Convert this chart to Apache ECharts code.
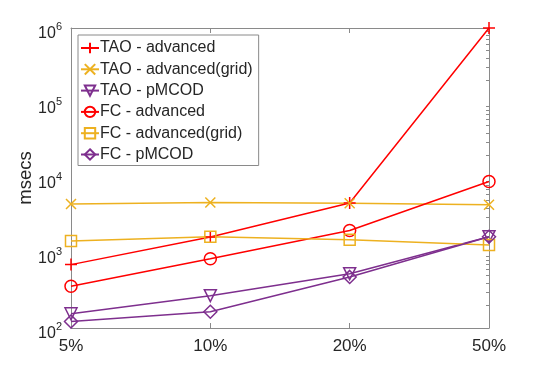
<!DOCTYPE html>
<html>
<head>
<meta charset="utf-8">
<script src="https://cdn.jsdelivr.net/npm/echarts@6/dist/echarts.min.js"></script>
<style>
  html, body { margin: 0; padding: 0; background: #fff; }
  #chart { width: 540px; height: 369px; }
</style>
</head>
<body>
<div id="chart"></div>
<script>
// categories (x axis)
var categories = ['5%', '10%', '20%', '50%'];
// series values, msecs
var taoAdvanced     = [700, 1630, 4650, 1000000];
var taoAdvancedGrid = [4500, 4700, 4600, 4400];
var taoPmcod        = [155, 270, 530, 1650];
var fcAdvanced      = [360, 840, 2000, 9000];
var fcAdvancedGrid  = [1450, 1650, 1500, 1280];
var fcPmcod         = [122, 165, 480, 1650];
// y axis range (powers of ten)
var yMin = 100;
var yMax = 1000000;

var RED = '#ff0000';
var ORANGE = '#edb120';
var PURPLE = '#7e2f8e';
var AXIS = '#8a8a8a';
var TEXT = '#262626';
var FONT = '"Liberation Sans", Arial, sans-serif';

// minor ticks of the log axis, in log10 space (2..9 in every decade)
var minorTicks = [];
for (var d = 2; d < 6; d++) {
  for (var k = 2; k <= 9; k++) {
    minorTicks.push(d + Math.log10(k));
  }
}

var chart = echarts.init(document.getElementById('chart'));

function makeSeries(name, data, color, symbol, rotate, size) {
  return {
    name: name,
    type: 'line',
    data: data,
    xAxisIndex: 0,
    yAxisIndex: 0,
    symbol: symbol,
    symbolSize: size,
    symbolRotate: rotate,
    showAllSymbol: true,
    lineStyle: { color: color, width: 1.5 },
    itemStyle: { color: 'rgba(255,255,255,0)', borderColor: color, borderWidth: 1.5 },
    emphasis: { disabled: true },
    animation: false
  };
}

var PLUS = 'path://M0,5L10,5M5,0L5,10';
var CROSS = 'path://M0,0L10,10M0,10L10,0';

chart.setOption({
  animation: false,
  grid: { left: 71, right: 51, top: 28, bottom: 41, show: false },
  legend: {
    orient: 'vertical',
    left: 78,
    top: 35,
    padding: [5, 6, 3, 2],
    borderColor: AXIS,
    borderWidth: 1,
    backgroundColor: '#fff',
    itemWidth: 18,
    itemHeight: 13,
    itemGap: 5.3,
    textStyle: { fontFamily: FONT, fontSize: 16, color: TEXT, padding: [0, 0, 0, -4] },
    data: ['TAO - advanced', 'TAO - advanced(grid)', 'TAO - pMCOD',
           'FC - advanced', 'FC - advanced(grid)', 'FC - pMCOD']
  },
  xAxis: [
    {
      type: 'category',
      data: categories,
      boundaryGap: false,
      axisLine: { lineStyle: { color: AXIS, width: 1 } },
      axisTick: { inside: true, length: 5, lineStyle: { color: AXIS } },
      axisLabel: { fontFamily: FONT, fontSize: 17, color: TEXT, margin: 10 },
      splitLine: { show: false }
    },
    {
      type: 'category',
      data: categories,
      position: 'top',
      boundaryGap: false,
      axisLine: { lineStyle: { color: AXIS, width: 1 } },
      axisTick: { inside: true, length: 5, lineStyle: { color: AXIS } },
      axisLabel: { show: false },
      splitLine: { show: false }
    }
  ],
  yAxis: [
    {
      type: 'log',
      logBase: 10,
      min: yMin,
      max: yMax,
      name: 'msecs',
      nameLocation: 'middle',
      nameGap: 36,
      nameMoveOverlap: false,
      nameTextStyle: { fontFamily: FONT, fontSize: 18.5, color: TEXT },
      axisLine: { show: true, lineStyle: { color: AXIS, width: 1 } },
      axisTick: { inside: true, length: 5, lineStyle: { color: AXIS } },
      axisLabel: {
        margin: 9,
        formatter: function (v) {
          return '{b|10}{s|' + Math.round(Math.log10(v)) + '}';
        },
        rich: {
          b: { fontFamily: FONT, fontSize: 16, lineHeight: 16, color: TEXT, padding: [11, 0, 0, 0] },
          s: { fontFamily: FONT, fontSize: 11, lineHeight: 11, color: TEXT, padding: [0, 0, 2, 0] }
        }
      },
      splitLine: { show: false }
    },
    {
      type: 'value',
      min: 2,
      max: 6,
      axisLine: { show: false },
      axisTick: { show: true, inside: true, length: 3, customValues: minorTicks, lineStyle: { color: AXIS } },
      axisLabel: { show: false },
      splitLine: { show: false }
    },
    {
      type: 'log',
      logBase: 10,
      min: yMin,
      max: yMax,
      position: 'right',
      axisLine: { show: true, lineStyle: { color: AXIS, width: 1 } },
      axisTick: { inside: true, length: 5, lineStyle: { color: AXIS } },
      axisLabel: { show: false },
      splitLine: { show: false }
    },
    {
      type: 'value',
      min: 2,
      max: 6,
      position: 'right',
      axisLine: { show: false },
      axisTick: { show: true, inside: true, length: 3, customValues: minorTicks, lineStyle: { color: AXIS } },
      axisLabel: { show: false },
      splitLine: { show: false }
    }
  ],
  series: [
    makeSeries('TAO - advanced', taoAdvanced, RED, PLUS, 0, 12),
    makeSeries('TAO - advanced(grid)', taoAdvancedGrid, ORANGE, CROSS, 0, 10),
    makeSeries('TAO - pMCOD', taoPmcod, PURPLE, 'triangle', 180, 12),
    makeSeries('FC - advanced', fcAdvanced, RED, 'circle', 0, 12),
    makeSeries('FC - advanced(grid)', fcAdvancedGrid, ORANGE, 'rect', 0, 11),
    makeSeries('FC - pMCOD', fcPmcod, PURPLE, 'diamond', 0, 13)
  ]
});
</script>
</body>
</html>
